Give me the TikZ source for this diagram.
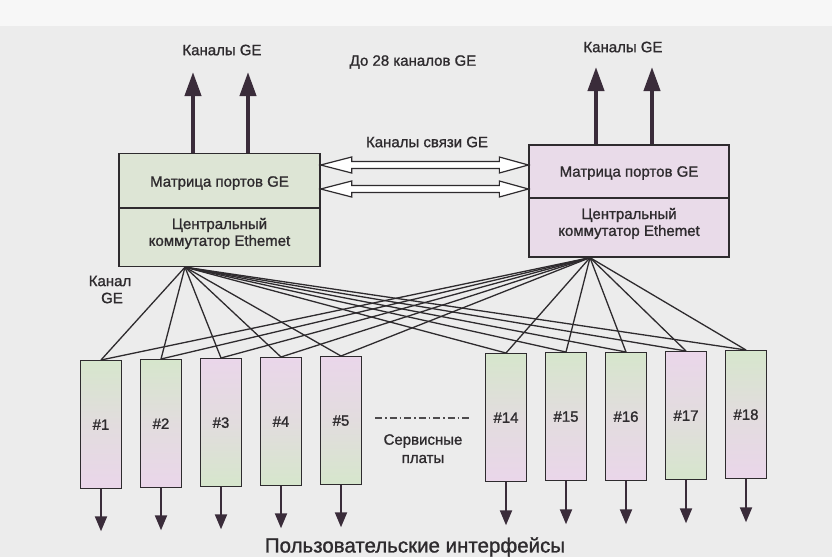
\documentclass[tikz,border=0pt]{standalone}
\usepackage{fontspec}
\setmainfont{Liberation Sans}[FakeBold=1.2]
\usetikzlibrary{calc,arrows.meta}
\definecolor{bg}{HTML}{ECECEC}
\definecolor{ink}{HTML}{2E2B2E}
\definecolor{boxg}{HTML}{DDE5D5}
\definecolor{boxp}{HTML}{E9DBE9}
\definecolor{slg}{HTML}{D6E6CC}
\definecolor{slp}{HTML}{EAD6EA}
\definecolor{arr}{HTML}{3A2C3A}
\begin{document}
\begin{tikzpicture}[x=1pt,y=-1pt,
  lbl/.style={font=\fontsize{15}{17}\selectfont, text=ink, inner sep=0},
  biglbl/.style={font=\fontsize{20.5}{22}\selectfont, text=ink, inner sep=0},
  mainbox/.style={draw=ink, line width=1.3pt, minimum width=201pt, minimum height=113pt, inner sep=0},
  slot/.style={draw=ink, line width=1.3pt, minimum width=41pt, minimum height=128pt, anchor=north, inner sep=0, font=\fontsize{15}{17}\selectfont, text=ink},
  sg/.style={slot, top color=slg, bottom color=slp, middle color=slp!60!slg},
  sp/.style={slot, top color=slp, bottom color=slg, middle color=slp!60!slg},
  fan/.style={draw=ink, line width=1.3pt},
  divider/.style={draw=ink, line width=1.3pt},
  uparr/.style={draw=arr, line width=4pt, -{Triangle[width=16pt,length=24pt]}},
  downarr/.style={draw=arr, line width=2pt, -{Triangle[width=12pt,length=15pt]}},
  hollow/.style={draw=ink, line width=1.2pt, fill=white, line join=miter},
  dashdotline/.style={draw=ink!85, line width=1.3pt, dash pattern=on 7pt off 3pt on 1.5pt off 3pt},
]
\useasboundingbox (0,0) rectangle (832,557);
\fill[bg] (0,0) rectangle (832,557);
\fill[white!60!bg] (0,0) rectangle (832,26);

% main boxes
\node[mainbox, fill=boxg] (L) at (219.5,210) {};
\node[mainbox, fill=boxp, minimum width=200pt, minimum height=112pt] (R) at (629,201) {};
\draw[divider] (L.west |- 0,208) -- (L.east |- 0,208);
\draw[divider] (R.west |- 0,198) -- (R.east |- 0,198);
\node[lbl] (Lt) at (219.5,183) {Матрица портов GE};
\node[lbl] (Lb1) at (219.5,225) {Центральный};
\node[lbl] (Lb2) at (219.5,242) {коммутатор Ethemet};
\node[lbl] (Rt) at (629,173) {Матрица портов GE};
\node[lbl] (Rb1) at (629,215) {Центральный};
\node[lbl] (Rb2) at (629,232) {коммутатор Ethemet};

% up arrows
\coordinate (lu1) at (193,72);
\coordinate (lu2) at (248,72);
\coordinate (ru1) at (596,67);
\coordinate (ru2) at (652,67);
\draw[uparr] (L.north -| lu1) -- (lu1);
\draw[uparr] (L.north -| lu2) -- (lu2);
\draw[uparr] (R.north -| ru1) -- (ru1);
\draw[uparr] (R.north -| ru2) -- (ru2);
\node[lbl] (lk) at (222,50) {Каналы GE};
\node[lbl] (rk) at (623,47) {Каналы GE};
\node[lbl] (d28) at (413,62) {До 28 каналов GE};
\node[lbl] (ks) at (427,142) {Каналы связи GE};

% hollow double arrows between boxes
\foreach \yy in {165,189} {
  \coordinate (A) at (L.east |- 0,\yy);
  \coordinate (B) at (R.west |- 0,\yy);
  \draw[hollow] (A) -- ($(A)+(31,-8)$) -- ($(A)+(31,-3.5)$) -- ($(B)+(-29,-3.5)$) -- ($(B)+(-29,-8)$) -- (B)
     -- ($(B)+(-29,8)$) -- ($(B)+(-29,3.5)$) -- ($(A)+(31,3.5)$) -- ($(A)+(31,8)$) -- cycle;
}

% slots
\node[sg] (s1) at (101,360) {\#1};
\node[sg] (s2) at (161,359) {\#2};
\node[sp] (s3) at (221,358) {\#3};
\node[sp] (s4) at (281,357) {\#4};
\node[sp] (s5) at (341,356) {\#5};
\node[sg] (s14) at (506,353) {\#14};
\node[sg] (s15) at (566,352) {\#15};
\node[sg] (s16) at (626,352) {\#16};
\node[sp] (s17) at (686,351) {\#17};
\node[sg] (s18) at (746,350) {\#18};

% fan connections
\coordinate (Lf) at (L.south -| 185,0);
\coordinate (Rf) at (R.south -| 590,0);
\foreach \s in {s1,s2,s3,s4,s5,s14,s15,s16,s17,s18} {
  \draw[fan] (Lf) -- (\s.north);
  \draw[fan] (Rf) -- (\s.north);
}

% down arrows
\foreach \s in {s1,s2,s3,s4,s5} {
  \coordinate (t\s) at ($(\s.south)+(0,42)$);
  \draw[downarr] (\s.south) -- (t\s);
}
\foreach \s in {s14,s15,s16,s17,s18} {
  \coordinate (t\s) at ($(\s.south)+(0,43)$);
  \draw[downarr] (\s.south) -- (t\s);
}

% service boards
\coordinate (dd1) at (375,418);
\coordinate (dd2) at (472,418);
\draw[dashdotline] (dd1) -- (dd2);
\node[lbl] (sv1) at (423,441) {Сервисные};
\node[lbl] (sv2) at (423,459) {платы};
\node[lbl] (kg1) at (110,281) {Канал};
\node[lbl] (kg2) at (112,298) {GE};

\node[biglbl] (ui) at (415,547) {Пользовательские интерфейсы};
\end{tikzpicture}
\end{document}
